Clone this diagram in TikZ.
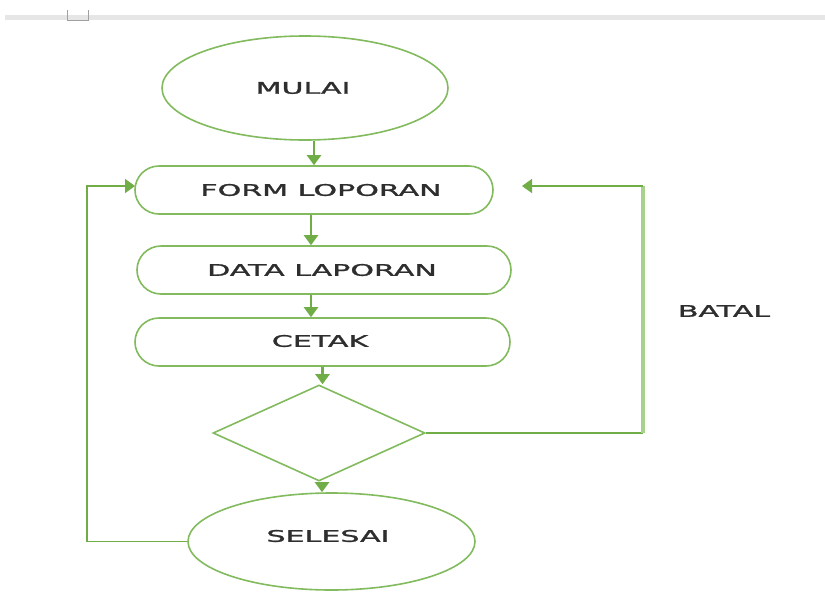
\documentclass[tikz,border=0pt]{standalone}
\usepackage{fontspec}
\setmainfont{DejaVu Sans}
\newfontfamily\lblfont[FakeBold=1.2]{DejaVu Sans}
\usetikzlibrary{shapes.geometric,arrows.meta}
\definecolor{fg}{HTML}{70AD47}
\definecolor{fgs}{HTML}{82BA5E}
\definecolor{fglight}{HTML}{A9D18E}
\definecolor{txt}{HTML}{2E2E2E}
\definecolor{barc}{HTML}{E6E6E6}
\definecolor{sqc}{HTML}{A0A0A0}
\newcommand{\wtxt}[1]{\scalebox{1.88}[1]{#1}}
\begin{document}
\begin{tikzpicture}[x=1pt,y=-1pt,
  shape line/.style={draw=fgs,line width=1.6pt},
  stadium/.style={shape line,rounded corners=24pt,minimum height=48pt,inner sep=0pt},
  oval/.style={shape line,ellipse,inner sep=0pt},
  lbl/.style={text=txt,font=\lblfont\fontsize{16}{19}\selectfont},
  arr/.style={draw=fg,line width=2.2pt,-{Triangle[length=10pt,width=14pt]}},
  conn/.style={draw=fg,line width=2pt}]
\useasboundingbox (0,0) rectangle (825,600);
% top bar
\fill[barc] (5,15) rectangle (825,20);
\draw[sqc,line width=1pt] (67,10) -- (67,20) -- (88,20) -- (88,10);
% nodes
\node[oval,minimum width=286pt,minimum height=104pt] (mulai) at (305,88) {};
\node[lbl] at (303,88) {\wtxt{MULAI}};
\node[stadium,minimum width=358pt] (form) at (314,190) {};
\node[lbl] at (321,190) {\wtxt{FORM LOPORAN}};
\node[stadium,minimum width=374pt] (data) at (324,270) {};
\node[lbl] at (322,270) {\wtxt{DATA LAPORAN}};
\node[stadium,minimum width=375pt] (cetak) at (322.5,342) {};
\node[lbl] at (320,341) {\wtxt{CETAK}};
\node[shape line,diamond,minimum width=212pt,minimum height=96pt,inner sep=0pt] (dia) at (319,433) {};
\node[oval,minimum width=287pt,minimum height=97pt] (sel) at (331.5,541.5) {};
\node[lbl] at (328,536) {\wtxt{SELESAI}};
\node[lbl] (batal) at (724,311) {\wtxt{BATAL}};
% helper coordinates
\coordinate (lx) at (87,0);
\coordinate (rx) at (643,0);
\coordinate (rtip) at (522,186);
\coordinate (ltip) at (135,186);
% connectors
\draw[arr] (form.north |- mulai.south) -- (form.north);
\draw[arr] (form.south) ++(-3,0) coordinate (a1) -- (a1 |- data.north);
\draw[arr] (a1 |- data.south) -- (a1 |- cetak.north);
\draw[arr] (cetak.south) -- (cetak.south |- dia.north);
\draw[arr] (dia.south) ++(3,0) coordinate (a2) -- (a2 |- sel.north);
\draw[arr,line width=1.8pt] (sel.west) -- (sel.west -| lx) |- (ltip);
\draw[conn,line width=1.5pt] (dia.east) -- (dia.east -| rx);
\draw[draw=fglight,line width=3.5pt] (dia.east -| rx) -- (rtip -| rx);
\draw[arr,line width=1.5pt] (rtip -| rx) -- (rtip);
\end{tikzpicture}
\end{document}
